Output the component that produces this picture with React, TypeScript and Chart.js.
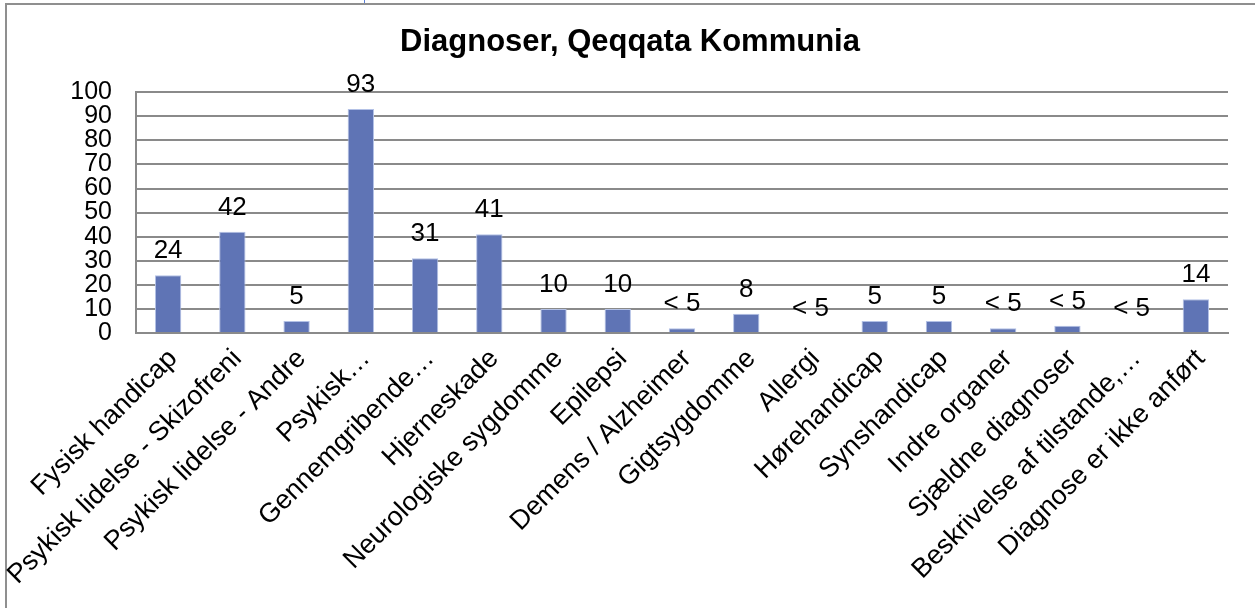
import React, { useEffect, useRef } from "react";
import { Chart, registerables } from "chart.js";

Chart.register(...registerables);

const TITLE = "Diagnoser, Qeqqata Kommunia";

const categories: string[] = [
  "Fysisk handicap",
  "Psykisk lidelse - Skizofreni",
  "Psykisk lidelse - Andre",
  "Psykisk…",
  "Gennemgribende…",
  "Hjerneskade",
  "Neurologiske sygdomme",
  "Epilepsi",
  "Demens / Alzheimer",
  "Gigtsygdomme",
  "Allergi",
  "Hørehandicap",
  "Synshandicap",
  "Indre organer",
  "Sjældne diagnoser",
  "Beskrivelse af tilstande,…",
  "Diagnose er ikke anført",
];

const values: number[] = [24, 42, 5, 93, 31, 41, 10, 10, 2, 8, 0, 5, 5, 2, 3, 0, 14];

const valueLabels: string[] = [
  "24", "42", "5", "93", "31", "41", "10", "10", "< 5", "8", "< 5", "5", "5", "< 5", "< 5", "< 5", "14",
];

const yTicks: number[] = [0, 10, 20, 30, 40, 50, 60, 70, 80, 90, 100];

const FONT = "'Liberation Sans', Arial, sans-serif";

const dataLabelPlugin = {
  id: "dataLabels",
  afterDatasetsDraw(chart: any) {
    const ctx = chart.ctx;
    const meta = chart.getDatasetMeta(0);
    ctx.save();
    ctx.font = `26px ${FONT}`;
    ctx.fillStyle = "#000000";
    ctx.textAlign = "center";
    ctx.textBaseline = "alphabetic";
    meta.data.forEach((bar: any, i: number) => {
      ctx.fillText(valueLabels[i], bar.x, bar.y - 17);
    });
    ctx.restore();
  },
};

export default function App() {
  const canvasRef = useRef<HTMLCanvasElement | null>(null);

  useEffect(() => {
    if (!canvasRef.current) return;
    const chart = new Chart(canvasRef.current, {
      type: "bar",
      data: {
        labels: categories,
        datasets: [
          {
            data: values,
            backgroundColor: "#5f74b5",
            borderColor: "#b3c1e6",
            borderWidth: 1,
            barPercentage: 0.41,
            categoryPercentage: 1,
          },
        ],
      },
      options: {
        animation: false,
        responsive: false,
        maintainAspectRatio: false,
        layout: { padding: { top: 0, left: 32, right: 27, bottom: 0 } },
        plugins: {
          legend: { display: false },
          tooltip: { enabled: false },
          title: {
            display: true,
            text: TITLE,
            color: "#000000",
            font: { family: FONT, size: 31, weight: "bold", lineHeight: 1.2 },
            padding: { top: 24, bottom: 31 },
          },
        },
        scales: {
          x: {
            grid: { display: false, drawTicks: false },
            border: { display: true, color: "#8a8a8a", width: 2 },
            ticks: {
              autoSkip: false,
              maxRotation: 45,
              minRotation: 45,
              color: "#000000",
              font: { family: FONT, size: 27 },
              padding: 10,
              labelOffset: 5,
            },
            afterFit(scale: any) {
              scale.height = 275;
            },
          },
          y: {
            min: 0,
            max: 100,
            afterBuildTicks(scale: any) {
              scale.ticks = yTicks.map((v) => ({ value: v }));
            },
            grid: { color: "#8a8a8a", lineWidth: 2, drawTicks: false },
            border: { display: true, color: "#8a8a8a", width: 2 },
            ticks: {
              autoSkip: false,
              color: "#000000",
              font: { family: FONT, size: 25, lineHeight: 1 },
              padding: 24,
            },
            afterFit(scale: any) {
              scale.width = 104;
            },
          },
        },
      },
      plugins: [dataLabelPlugin],
    });
    return () => chart.destroy();
  }, []);

  return (
    <div style={{ position: "fixed", left: 0, top: 0, width: 1255, height: 608, background: "#ffffff", overflow: "hidden" }}>
      <div
        style={{
          position: "absolute",
          left: 5,
          top: 3,
          width: 1300,
          height: 700,
          borderLeft: "2px solid #8f8f8f",
          borderTop: "2px solid #8f8f8f",
        }}
      />
      <div style={{ position: "absolute", left: 364, top: 0, width: 1, height: 3, background: "#5b7fd6" }} />
      <canvas ref={canvasRef} width={1255} height={608} style={{ position: "absolute", left: 0, top: 0, width: 1255, height: 608 }} />
    </div>
  );
}
